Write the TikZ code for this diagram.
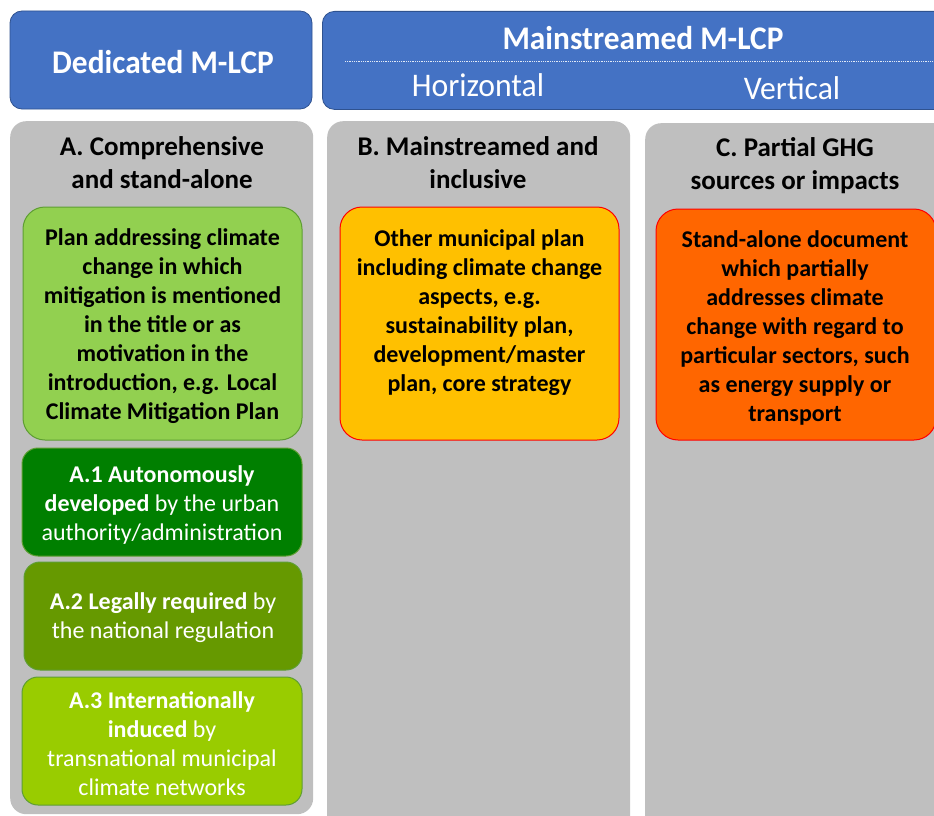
\documentclass[tikz,border=0pt]{standalone}
\usepackage{fontspec}
\setmainfont{Carlito}
\usetikzlibrary{positioning,calc}

\definecolor{hdrblue}{HTML}{4472C4}
\definecolor{hdredge}{HTML}{2F528F}
\definecolor{colgray}{HTML}{BFBFBF}
\definecolor{planA}{HTML}{92D050}
\definecolor{planAedge}{HTML}{5E9E32}
\definecolor{subA1}{HTML}{007F00}
\definecolor{subA2}{HTML}{669900}
\definecolor{subA3}{HTML}{99CC00}
\definecolor{planB}{HTML}{FFC000}
\definecolor{planC}{HTML}{FF6600}

\tikzset{
    header/.style={draw=hdredge, fill=hdrblue, rounded corners=12pt, line width=0.8pt},
    column/.style={fill=colgray, rounded corners=16pt},
    coltitle/.style={align=center, font=\fontsize{27}{33}\selectfont\bfseries},
    planbox/.style={rounded corners=22pt, line width=1pt, align=center,
        font=\fontsize{24}{29}\selectfont\bfseries},
    subbox/.style={draw=planAedge, rounded corners=16pt, line width=1pt, align=center,
        text=white, font=\fontsize{24}{29}\selectfont, minimum width=280pt},
    hdrtext/.style={text=white, font=\fontsize{33}{38}\selectfont},
}

\begin{document}
\begin{tikzpicture}[x=1pt, y=-1pt]
    \useasboundingbox (0,0) rectangle (934,816);
    \clip (0,0) rectangle (934,816);

    % Headers
    \node[header, minimum width=302pt, minimum height=98pt] (dedhdr) at (161,60) {};
    \node[hdrtext, font=\fontsize{33}{38}\selectfont\bfseries] (dedtext) at (163,62)
        {\scalebox{0.95}[1]{Dedicated M-LCP}};
    \node[header, minimum width=640pt, minimum height=98pt, anchor=north west] (mainhdr) at (322,11) {};
    \node[hdrtext, font=\fontsize{33}{38}\selectfont\bfseries] (maintext) at (643,38)
        {\scalebox{0.95}[1]{Mainstreamed M-LCP}};
    \coordinate (dotL) at (345,61);
    \coordinate (dotR) at (934,61);
    \draw[white!85!hdrblue, densely dotted, line width=0.8pt] (dotL) -- (dotR);
    \node[hdrtext] (horiz) at (478,85) {\scalebox{0.96}[1]{Horizontal}};
    \node[hdrtext] (vert) at (792,88) {\scalebox{0.96}[1]{Vertical}};

    % Gray columns
    \node[column, minimum width=303pt, minimum height=693pt, anchor=north west] (colA) at (10,121) {};
    \node[column, minimum width=303pt, minimum height=720pt, anchor=north west] (colB) at (327,121) {};
    \node[column, minimum width=320pt, minimum height=720pt, anchor=north west] (colC) at (645,123) {};

    % Column titles
    \node[coltitle] (titleA) at (162,163) {A. Comprehensive\\and stand-alone};
    \node[coltitle] (titleB) at (478,163) {B. Mainstreamed and\\inclusive};
    \node[coltitle] (titleC) at (795,166) {C. Partial GHG\\sources or impacts};

    % Plan boxes
    \node[planbox, draw=planAedge, fill=planA, minimum width=279pt, minimum height=233pt] (boxA) at (162.5,323.5) {};
    \node[planbox] (textA) at ([yshift=-3pt]boxA.center)
        {Plan addressing climate\\change in which\\mitigation is mentioned\\in the title or as\\motivation in the\\introduction, e.g. Local\\Climate Mitigation Plan};
    \node[planbox, draw=red, fill=planB, minimum width=279pt, minimum height=233pt] (boxB) at (479.5,323.5) {};
    \node[planbox, anchor=north] (textB) at ([yshift=-19pt]boxB.north)
        {Other municipal plan\\including climate change\\aspects, e.g.\\sustainability plan,\\development/master\\plan, core strategy};
    \node[planbox, draw=red, fill=planC, minimum width=280pt, minimum height=231pt] (boxC) at (796,324.5) {};
    \node[planbox] (textC) at ([xshift=-1pt, yshift=-3pt]boxC.center)
        {Stand-alone document\\which partially\\addresses climate\\change with regard to\\particular sectors, such\\as energy supply or\\transport};

    % Sub-types of A
    \node[subbox, fill=subA1, minimum height=108pt] (subA1) at (162,502) {};
    \node[subbox, draw=none] (textA1) at ([yshift=-3pt]subA1.center)
        {\textbf{A.1 Autonomously}\\\textbf{developed} by the urban\\authority/administration};
    \node[subbox, fill=subA2, minimum width=278pt, minimum height=108pt] (subA2) at (163,616) {};
    \node[subbox, draw=none] (textA2) at ([yshift=-2pt]subA2.center)
        {\textbf{A.2 Legally required} by\\the national regulation};
    \node[subbox, fill=subA3, minimum height=128pt] (subA3) at (162,741) {};
    \node[subbox, draw=none] (textA3) at ([yshift=-3pt]subA3.center)
        {\textbf{A.3 Internationally}\\\textbf{induced} by\\transnational municipal\\climate networks};
\end{tikzpicture}
\end{document}
